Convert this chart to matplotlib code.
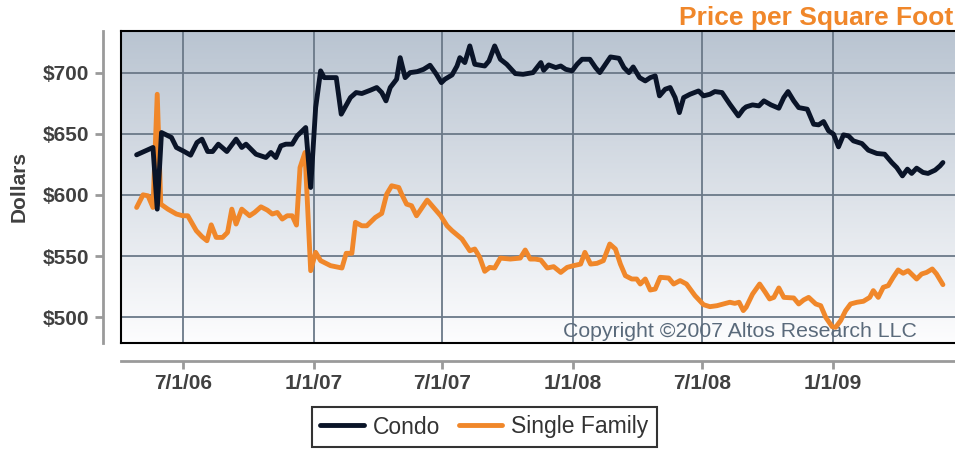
import numpy as np
import pandas as pd
import matplotlib
matplotlib.use('Agg')
import matplotlib.pyplot as plt
from matplotlib.lines import Line2D

plt.rcParams['font.family'] = ['Liberation Sans', 'DejaVu Sans']

# 콘도 (Condo) - 주간 데이터, 그림에서 읽은 값
condo_dates = [
    '2006-04-27', '2006-05-20', '2006-05-26', '2006-06-01', '2006-06-15', '2006-06-22',
    '2006-07-03', '2006-07-12', '2006-07-21', '2006-07-28', '2006-08-05', '2006-08-12',
    '2006-08-20', '2006-09-01', '2006-09-14', '2006-09-22', '2006-09-28', '2006-10-12',
    '2006-10-26', '2006-11-02', '2006-11-09', '2006-11-16', '2006-11-23', '2006-12-02',
    '2006-12-09', '2006-12-21', '2006-12-28', '2007-01-04', '2007-01-11', '2007-01-16',
    '2007-01-25', '2007-02-02', '2007-02-09', '2007-02-22', '2007-03-02', '2007-03-10',
    '2007-03-22', '2007-03-31', '2007-04-07', '2007-04-13', '2007-04-19', '2007-04-28',
    '2007-05-03', '2007-05-10', '2007-05-17', '2007-05-27', '2007-06-05', '2007-06-14',
    '2007-06-23', '2007-06-30', '2007-07-05', '2007-07-15', '2007-07-22', '2007-07-26',
    '2007-08-02', '2007-08-09', '2007-08-16', '2007-08-30', '2007-09-05', '2007-09-13',
    '2007-09-21', '2007-09-30', '2007-10-12', '2007-10-23', '2007-11-06', '2007-11-17',
    '2007-11-21', '2007-11-28', '2007-12-08', '2007-12-15', '2007-12-22', '2007-12-31',
    '2008-01-07', '2008-01-14', '2008-01-25', '2008-02-02', '2008-02-08', '2008-02-16',
    '2008-02-23', '2008-03-06', '2008-03-13', '2008-03-20', '2008-03-26', '2008-04-04',
    '2008-04-12', '2008-04-19', '2008-04-26', '2008-05-02', '2008-05-10', '2008-05-17',
    '2008-05-24', '2008-05-30', '2008-06-05', '2008-06-14', '2008-06-26', '2008-07-03',
    '2008-07-12', '2008-07-19', '2008-07-29', '2008-08-09', '2008-08-21', '2008-08-28',
    '2008-09-01', '2008-09-10', '2008-09-19', '2008-09-26', '2008-10-06', '2008-10-17',
    '2008-10-24', '2008-10-30', '2008-11-07', '2008-11-14', '2008-11-26', '2008-12-05',
    '2008-12-12', '2008-12-19', '2008-12-26', '2009-01-02', '2009-01-09', '2009-01-16',
    '2009-01-23', '2009-01-30', '2009-02-11', '2009-02-20', '2009-03-04', '2009-03-15',
    '2009-03-25', '2009-04-01', '2009-04-09', '2009-04-16', '2009-04-22', '2009-04-29',
    '2009-05-08', '2009-05-15', '2009-05-25', '2009-06-01', '2009-06-05',
]
condo_vals = [
    632.8, 638.8, 588.4, 651.0, 647.0, 638.8,
    635.5, 632.5, 642.9, 645.6, 635.5, 635.5,
    641.5, 635.5, 645.6, 638.8, 641.5, 633.3,
    630.6, 634.7, 630.6, 640.1, 641.5, 641.5,
    648.3, 655.1, 606.1, 671.4, 701.4, 695.9,
    695.9, 695.9, 666.0, 679.6, 683.7, 682.9,
    685.6, 687.8, 683.7, 676.9, 687.8, 694.6,
    712.2, 695.9, 700.0, 700.8, 702.7, 706.0,
    698.6, 691.8, 694.6, 698.1, 705.4, 712.2,
    708.2, 721.8, 706.8, 705.4, 709.5, 721.8,
    710.9, 706.8, 699.2, 698.6, 700.0, 708.2,
    701.9, 706.3, 704.1, 705.4, 702.7, 701.4,
    706.8, 710.9, 710.9, 704.1, 700.0, 706.8,
    712.8, 711.7, 704.1, 700.0, 704.6, 695.9,
    693.2, 695.9, 697.3, 681.0, 686.4, 687.8,
    679.6, 667.3, 679.6, 682.3, 685.0, 681.0,
    682.3, 684.5, 683.7, 674.2, 664.6, 670.1,
    672.0, 673.6, 672.8, 676.9, 673.6, 670.9,
    679.6, 684.5, 676.9, 671.4, 670.1, 657.8,
    657.3, 660.0, 652.4, 649.7, 639.3, 649.1,
    648.3, 644.2, 642.0, 636.6, 633.9, 633.3,
    626.5, 622.4, 615.6, 621.1, 617.6, 621.9,
    618.4, 617.6, 620.3, 623.8, 626.5,
]

# 단독주택 (Single Family)
sf_dates = [
    '2006-04-27', '2006-05-06', '2006-05-13', '2006-05-20', '2006-05-26', '2006-05-31',
    '2006-06-10', '2006-06-22', '2006-07-01', '2006-07-08', '2006-07-20', '2006-07-28',
    '2006-08-04', '2006-08-10', '2006-08-17', '2006-08-26', '2006-09-02', '2006-09-08',
    '2006-09-14', '2006-09-22', '2006-10-03', '2006-10-10', '2006-10-19', '2006-10-28',
    '2006-11-04', '2006-11-11', '2006-11-18', '2006-11-25', '2006-12-02', '2006-12-08',
    '2006-12-13', '2006-12-20', '2006-12-28', '2007-01-04', '2007-01-11', '2007-01-25',
    '2007-02-10', '2007-02-16', '2007-02-24', '2007-03-01', '2007-03-10', '2007-03-17',
    '2007-03-29', '2007-04-07', '2007-04-14', '2007-04-21', '2007-05-01', '2007-05-05',
    '2007-05-12', '2007-05-19', '2007-05-26', '2007-06-10', '2007-06-19', '2007-06-29',
    '2007-07-08', '2007-07-15', '2007-07-29', '2007-08-09', '2007-08-16', '2007-08-23',
    '2007-08-30', '2007-09-06', '2007-09-13', '2007-09-21', '2007-10-05', '2007-10-19',
    '2007-10-26', '2007-11-02', '2007-11-09', '2007-11-17', '2007-11-26', '2007-12-05',
    '2007-12-15', '2007-12-24', '2008-01-02', '2008-01-12', '2008-01-18', '2008-01-26',
    '2008-02-04', '2008-02-13', '2008-02-22', '2008-03-01', '2008-03-08', '2008-03-15',
    '2008-03-24', '2008-03-31', '2008-04-05', '2008-04-12', '2008-04-19', '2008-04-26',
    '2008-05-03', '2008-05-15', '2008-05-22', '2008-05-31', '2008-06-09', '2008-06-21',
    '2008-07-03', '2008-07-12', '2008-07-22', '2008-07-31', '2008-08-09', '2008-08-16',
    '2008-08-22', '2008-08-28', '2008-09-01', '2008-09-10', '2008-09-20', '2008-09-28',
    '2008-10-04', '2008-10-10', '2008-10-17', '2008-10-24', '2008-11-07', '2008-11-14',
    '2008-11-21', '2008-11-28', '2008-12-08', '2008-12-15', '2008-12-22', '2008-12-31',
    '2009-01-05', '2009-01-12', '2009-01-19', '2009-01-26', '2009-02-04', '2009-02-13',
    '2009-02-22', '2009-02-27', '2009-03-06', '2009-03-13', '2009-03-20', '2009-03-27',
    '2009-04-03', '2009-04-10', '2009-04-17', '2009-04-29', '2009-05-06', '2009-05-13',
    '2009-05-21', '2009-05-27', '2009-06-05',
]
sf_vals = [
    589.8, 600.1, 599.3, 589.8, 682.3, 592.5,
    588.4, 584.4, 583.0, 583.0, 570.8, 565.9,
    562.6, 575.6, 565.3, 565.3, 569.4, 588.4,
    576.2, 588.4, 583.0, 585.7, 590.3, 587.6,
    584.4, 585.7, 580.3, 583.0, 583.0, 575.4,
    622.4, 634.7, 538.1, 553.1, 546.3, 542.2,
    540.3, 552.3, 552.3, 577.6, 574.8, 574.8,
    581.6, 584.9, 600.7, 607.5, 606.1, 600.7,
    592.5, 591.2, 583.0, 595.8, 589.8, 583.0,
    574.8, 570.8, 564.0, 554.4, 555.8, 549.0,
    537.6, 540.8, 540.3, 548.4, 547.6, 548.4,
    555.0, 547.6, 547.6, 546.8, 540.3, 541.4,
    536.7, 540.8, 542.2, 543.5, 553.1, 543.5,
    544.1, 546.3, 559.9, 555.8, 543.5, 534.0,
    531.3, 531.3, 527.2, 531.3, 522.3, 523.1,
    532.7, 532.1, 527.2, 530.0, 527.2, 517.7,
    510.3, 508.7, 509.5, 510.9, 512.3, 511.4,
    512.3, 505.5, 508.2, 519.0, 527.2, 520.4,
    515.0, 516.3, 524.0, 516.3, 515.8, 510.9,
    514.2, 516.3, 510.9, 509.5, 500.0, 492.4,
    491.8, 497.3, 505.4, 510.9, 512.3, 513.1,
    516.3, 521.8, 516.3, 524.5, 525.9, 532.7,
    538.7, 536.0, 538.1, 531.3, 535.4, 536.7,
    539.5, 535.4, 526.7,
]

y_ticks = [500, 550, 600, 650, 700]
x_ticks = ['2006-07-01', '2007-01-01', '2007-07-01', '2008-01-01', '2008-07-01', '2009-01-01']

condo_color = '#0a1428'
sf_color = '#f0872a'
grid_color = '#6b7988'
label_color = '#404040'

fig = plt.figure(figsize=(9.55, 4.53), dpi=100)
ax = fig.add_axes([121 / 955, 1 - 343 / 453, 1 - 121 / 955, (343 - 31) / 453])

# 배경 그라데이션
grad = np.linspace(0, 1, 256).reshape(-1, 1)
top = np.array([0xb9, 0xc4, 0xd1]) / 255
bot = np.array([0xfd, 0xfd, 0xfe]) / 255
img = top + (bot - top) * grad[:, :, None]
ax.imshow(img, extent=[0, 1, 0, 1], transform=ax.transAxes, aspect='auto', zorder=0)

cd = pd.to_datetime(condo_dates)
sd = pd.to_datetime(sf_dates)
ax.plot(sd, sf_vals, color=sf_color, lw=3.5, solid_joinstyle='round', solid_capstyle='round', zorder=3)
ax.plot(cd, condo_vals, color=condo_color, lw=3.5, solid_joinstyle='round', solid_capstyle='round', zorder=4)

ax.set_xlim(pd.Timestamp('2006-04-05'), pd.Timestamp('2009-06-22'))
ax.set_ylim(479, 734)

xt = pd.to_datetime(x_ticks)
ax.set_xticks(xt)
ax.set_xticklabels([f'{d.month}/{d.day}/{d.strftime("%y")}' for d in xt])
ax.set_yticks(y_ticks)
ax.set_yticklabels([f'${v}' for v in y_ticks])

for d in xt:
    ax.axvline(d, color=grid_color, lw=1.3, zorder=1)
for v in y_ticks:
    ax.axhline(v, color=grid_color, lw=1.3, zorder=1)

# 바깥쪽 회색 축
for s in ['left', 'bottom']:
    ax.spines[s].set_position(('outward', 13))
    ax.spines[s].set_color('#9a9a9a')
    ax.spines[s].set_linewidth(2)
ax.spines['right'].set_visible(False)
ax.spines['top'].set_color('black')
ax.spines['top'].set_linewidth(1.5)
ax.tick_params(axis='both', colors='#9a9a9a', width=2, length=6, labelcolor=label_color, labelsize=15)
ax.tick_params(axis='y', pad=4)
ax.tick_params(axis='x', pad=3)
for lab in ax.get_xticklabels() + ax.get_yticklabels():
    lab.set_fontweight('bold')

# 검은 테두리 (왼쪽, 아래)
ax.plot([0, 0], [0, 1], transform=ax.transAxes, color='black', lw=1.5, clip_on=False, zorder=6)
ax.plot([0, 1], [0, 0], transform=ax.transAxes, color='black', lw=1.5, clip_on=False, zorder=6)

ax.text(0.530, 0.02, 'Copyright \u00a92007 Altos Research LLC', transform=ax.transAxes,
        fontsize=15.3, color='#5a6a7b', va='baseline', ha='left', zorder=2)

fig.text(19.5 / 955, 1 - 187 / 453, 'Dollars', rotation=90, fontsize=15, fontweight='bold',
         color=label_color, ha='center', va='center')
fig.text(953 / 955, 1 - 18 / 453, 'Price per Square Foot', fontsize=19, fontweight='bold',
         color=sf_color, ha='right', va='center')

handles = [Line2D([], [], color=condo_color, lw=3.5, solid_capstyle='round'),
           Line2D([], [], color=sf_color, lw=3.5, solid_capstyle='round')]
leg = fig.legend(handles, ['Condo', 'Single Family'], loc='center', bbox_to_anchor=(484.5 / 955, 1 - 427 / 453),
                 ncol=2, fontsize=16.5, frameon=True, fancybox=False, edgecolor='black',
                 handlelength=1.9, handletextpad=0.4, columnspacing=0.8, borderpad=0.35)
leg.get_frame().set_linewidth(1.5)
for t in leg.get_texts():
    t.set_color('#333333')

fig.savefig('out.png', dpi=100)
